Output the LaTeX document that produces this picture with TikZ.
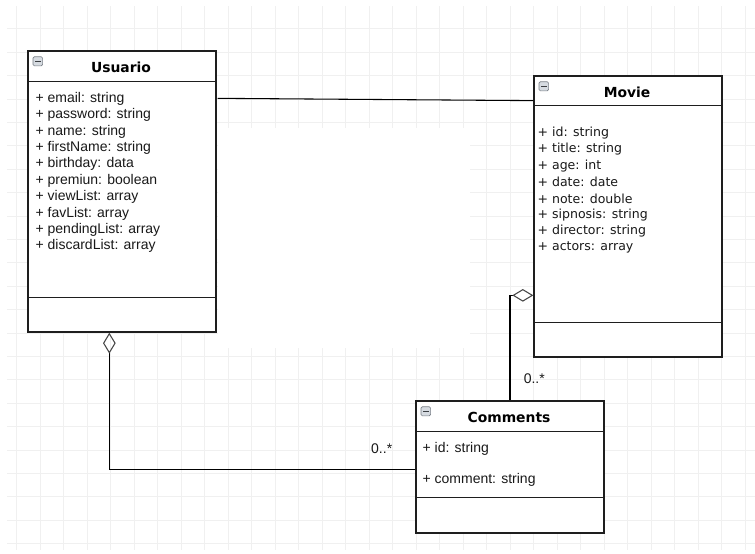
\documentclass[tikz,border=0pt]{standalone}
\usepackage{fontspec}
\setmainfont{Liberation Sans}
\newfontfamily\titlefont{DejaVu Sans}
\newfontfamily\moviefont{DejaVu Sans}
\usepackage{tikz}
\usetikzlibrary{arrows.meta, calc}
\definecolor{UMLLine}{RGB}{30,30,30}
\definecolor{UMLText}{RGB}{25,25,25}
\definecolor{UMLGrid}{RGB}{240,240,240}
\definecolor{UMLIcon}{RGB}{214,219,225}
\definecolor{UMLIconEdge}{RGB}{120,126,134}
\definecolor{UMLDiamond}{RGB}{70,70,70}

\begin{document}
\begin{tikzpicture}[x=0.75pt, y=-0.75pt,
      classbox/.style={rectangle, draw=UMLLine, line width=1pt, fill=white,
                       inner sep=0pt, minimum width=141pt},
      ctitle/.style={font=\titlefont\bfseries\fontsize{10.4}{12}\selectfont,
                     inner sep=0pt, text=black},
      attr/.style={anchor=west, inner sep=0pt, text=UMLText,
                   font=\fontsize{10.5}{12}\selectfont},
      mattr/.style={attr, font=\moviefont\fontsize{9.4}{12}\selectfont},
      mult/.style={inner sep=0pt, text=UMLText, font=\fontsize{10.5}{12}\selectfont},
      sep/.style={draw=UMLLine, line width=1pt},
      assoc/.style={draw=black, line width=0.8pt},
      aggr/.style={assoc, {Diamond[open, length=15.75pt, width=9.5pt,
                   line width=0.8pt, color=UMLDiamond]}-},
      minus/.style={rectangle, rounded corners=1pt, draw=UMLIconEdge,
                    fill=UMLIcon, line width=0.5pt, inner sep=0pt,
                    minimum width=7.2pt, minimum height=6.8pt},
      gridline/.style={UMLGrid, line width=0.5pt}
    ]
    \useasboundingbox (0,0) rectangle (755,553);

    % Background grid
    \foreach \gx in {16.5, 40, ..., 746} {
      \draw[gridline] (\gx,6) -- (\gx,550);
    }
    \foreach \gy in {28.8, 52.2, ..., 544} {
      \draw[gridline] (7,\gy) -- (755,\gy);
    }
    \fill[white] (218,128) rectangle (470,348);

    % Class boxes
    \node[classbox, minimum height=210.75pt] (usuario) at (122,191.5) {};
    \node[classbox, minimum height=210.75pt] (movie) at (628,216.5) {};
    \node[classbox, minimum height=99pt] (comments) at (510,467) {};

    % Usuario
    \draw[sep] ($(usuario.north west)+(0,31)$) -- ($(usuario.north east)+(0,31)$);
    \draw[sep] ($(usuario.south west)+(0,-35)$) -- ($(usuario.south east)+(0,-35)$);
    \node[minus] (usuario-min) at ($(usuario.north west)+(10.5,11)$)
          {\textcolor{UMLIconEdge!50!black}{\rule{4.2pt}{1.1pt}}};
    \node[ctitle] (usuario-title) at ($(usuario.north)+(-1,17)$) {Usuario};
    \foreach \a [count=\i from 0] in {email: string, password: string,
        name: string, firstName: string, birthday: data, premiun: boolean,
        viewList: array, favList: array, pendingList: array,
        discardList: array} {
      \node[attr] (usuario-a\i) at ($(usuario.north west)+(8,48.3+16.4*\i)$) {+ \a};
    }

    % Movie
    \draw[sep] ($(movie.north west)+(0,30)$) -- ($(movie.north east)+(0,30)$);
    \draw[sep] ($(movie.south west)+(0,-35)$) -- ($(movie.south east)+(0,-35)$);
    \node[minus] (movie-min) at ($(movie.north west)+(10.5,11)$)
          {\textcolor{UMLIconEdge!50!black}{\rule{4.2pt}{1.1pt}}};
    \node[ctitle] (movie-title) at ($(movie.north)+(-1,17)$) {Movie};
    \foreach \a [count=\i from 0] in {id: string, title: string, age: int,
        date: date, note: double, sipnosis: string, director: string,
        actors: array} {
      \node[mattr] (movie-a\i) at ($(movie.north west)+(4,57.5+16.4*\i)$) {+ \a};
    }

    % Comments
    \draw[sep] ($(comments.north west)+(0,31)$) -- ($(comments.north east)+(0,31)$);
    \draw[sep] ($(comments.south west)+(0,-36)$) -- ($(comments.south east)+(0,-36)$);
    \node[minus] (comments-min) at ($(comments.north west)+(10.5,11)$)
          {\textcolor{UMLIconEdge!50!black}{\rule{4.2pt}{1.1pt}}};
    \node[ctitle] (comments-title) at ($(comments.north)+(-1,17.5)$) {Comments};
    \node[attr] (comments-a0) at ($(comments.north west)+(7,48.8)$) {+ id: string};
    \node[attr] (comments-a1) at ($(comments.north west)+(7,79.2)$) {+ comment: string};

    % Relations
    \draw[assoc] ($(usuario.north east)+(1,48)$) -- ($(movie.north west)+(0,25.3)$);
    \draw[aggr] ($(movie.north west)+(0,220)$) -| (comments.north);
    \draw[aggr] ($(usuario.south west)+(82,0)$) |- ($(comments.north west)+(0,69)$);

    % Multiplicities
    \node[mult] (mult-usuario) at (381.7,448.5) {0..*};
    \node[mult] (mult-movie) at (534.3,379) {0..*};
  \end{tikzpicture}
\end{document}
